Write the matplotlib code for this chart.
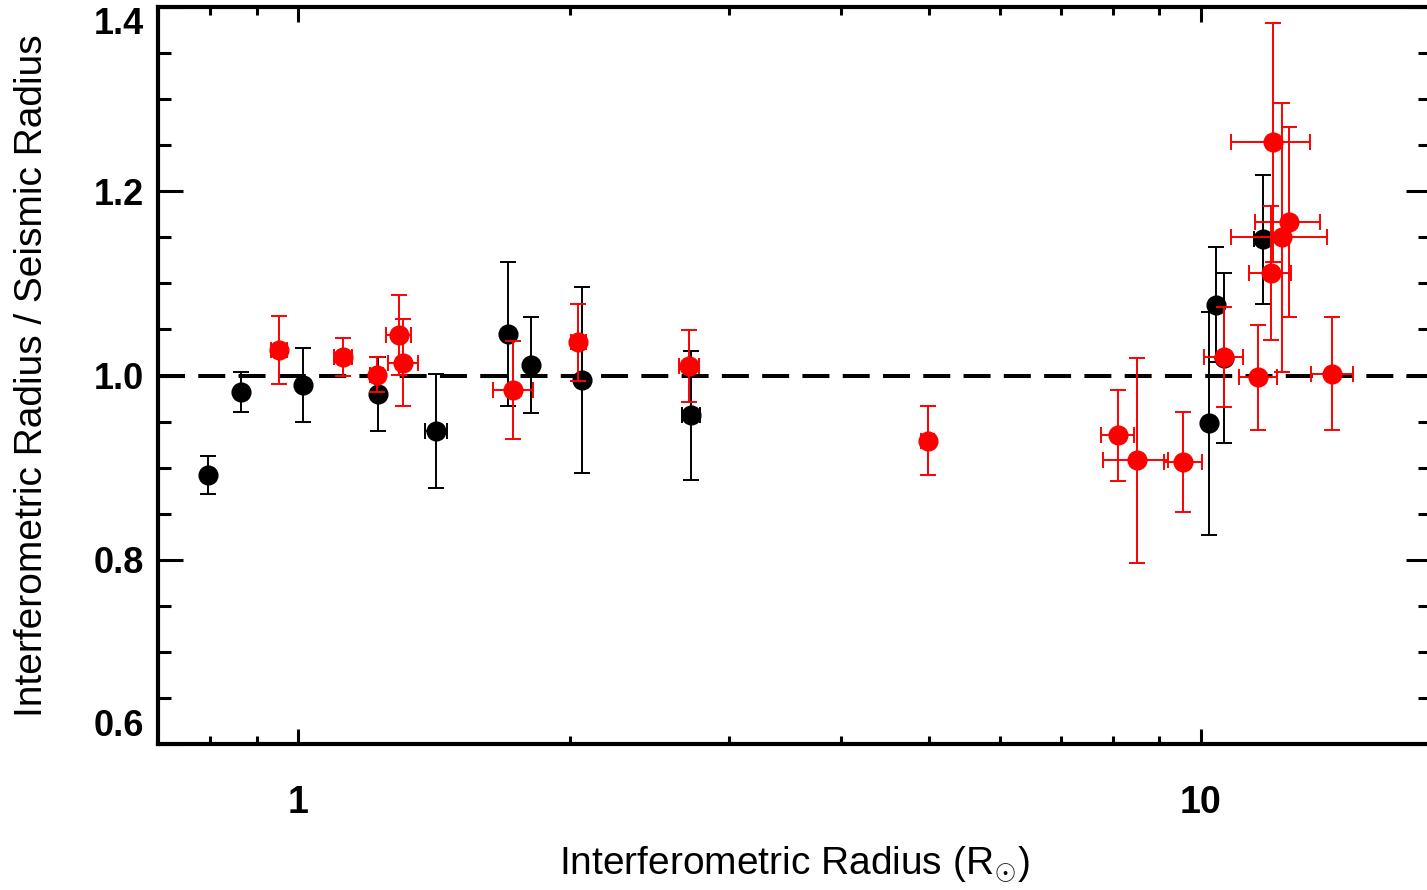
import numpy as np
import matplotlib
matplotlib.use("Agg")
import matplotlib.pyplot as plt
from matplotlib.ticker import FixedLocator, NullFormatter, FixedFormatter

plt.rcParams['font.family'] = ['Liberation Sans', 'DejaVu Sans']
plt.rcParams['mathtext.fontset'] = 'custom'
plt.rcParams['mathtext.rm'] = 'Liberation Sans'

# black sample: interferometric radius, ratio, errors
black_r = [0.795, 0.866, 1.012, 1.227, 1.423, 1.708, 1.813, 2.063, 2.726, 10.23, 10.41, 10.61, 11.72]
black_rerr = [0, 0, 0, 0, 0.04, 0, 0, 0, 0.06, 0, 0, 0, 0.25]
black_ratio = [0.892, 0.982, 0.990, 0.980, 0.940, 1.045, 1.011, 0.995, 0.957, 0.948, 1.077, 1.019, 1.148]
black_ratio_err = [0.021, 0.022, 0.040, 0.040, 0.062, 0.078, 0.052, 0.101, 0.070, 0.121, 0.062, 0.092, 0.070]

# red sample
red_r = [0.953, 1.122, 1.223, 1.293, 1.309, 1.733, 2.045, 2.713, 4.984, 8.10, 8.50, 9.57,
         10.62, 11.58, 14.0, 12.02, 11.96, 12.31, 12.52]
red_rerr = [0.02, 0.025, 0.02, 0.04, 0.05, 0.087, 0.04, 0.07, 0.08, 0.34, 0.70, 0.47,
            0.53, 0.56, 0.75, 1.2, 0.65, 1.49, 1.04]
red_ratio = [1.028, 1.020, 1.001, 1.044, 1.014, 0.984, 1.036, 1.010, 0.929, 0.935, 0.908, 0.906,
             1.020, 0.998, 1.002, 1.253, 1.111, 1.150, 1.167]
red_ratio_err = [0.037, 0.021, 0.019, 0.043, 0.047, 0.053, 0.042, 0.039, 0.0375, 0.049, 0.111, 0.054,
                 0.054, 0.057, 0.061, 0.130, 0.073, 0.146, 0.103]

W, H = 1427, 890
fig = plt.figure(figsize=(W / 100, H / 100), dpi=100)
ax = fig.add_axes([158 / W, (H - 744) / H, (1431 - 158) / W, (744 - 7) / H])

ax.set_xscale('log')
ax.set_xlim(0.7, 18)
ax.set_ylim(0.6, 1.4)

# reference line
ax.axhline(1.0, color='black', lw=2.9, dashes=(6.7, 3.3), zorder=1)

eb = dict(fmt='o', ms=13.5, elinewidth=1.4, capsize=6, capthick=1.4)
ax.errorbar(black_r, black_ratio, yerr=black_ratio_err, xerr=black_rerr,
            color='black', mec='black', zorder=2, **eb)
ax.errorbar(red_r, red_ratio, yerr=red_ratio_err, xerr=red_rerr,
            color='red', mec='red', zorder=3, **eb)

# axes decoration
for s in ax.spines.values():
    s.set_linewidth(3)

ax.xaxis.set_major_locator(FixedLocator([1, 10]))
ax.xaxis.set_major_formatter(FixedFormatter(['1', '10']))
ax.xaxis.set_minor_locator(FixedLocator([0.8, 0.9, 2, 3, 4, 5, 6, 7, 8, 9]))
ax.xaxis.set_minor_formatter(NullFormatter())

yticks = [0.6, 0.8, 1.0, 1.2, 1.4]
ax.yaxis.set_major_locator(FixedLocator(yticks))
ax.yaxis.set_major_formatter(FixedFormatter(['%.1f' % v for v in yticks]))
ax.yaxis.set_minor_locator(FixedLocator(np.arange(0.65, 1.4, 0.05)))

ax.tick_params(axis='y', which='major', direction='in', length=18, width=2.2,
               right=True, labelsize=26, pad=10)
ax.tick_params(axis='y', which='minor', direction='in', length=9.4, width=2.2, right=True)
ax.tick_params(axis='x', which='major', direction='in', length=11, width=2.2,
               top=True, labelsize=27, pad=29.5)
ax.tick_params(axis='x', which='minor', direction='in', length=6, width=2.2, top=True)

for lab in ax.get_xticklabels() + ax.get_yticklabels():
    lab.set_fontweight('bold')

ticks = ax.yaxis.get_major_ticks()
ticks[0].label1.set_va('bottom')
ticks[-1].label1.set_va('top')

ax.set_xlabel(r'Interferometric Radius (R$_{\!\odot\!}$)', fontsize=28)
ax.set_ylabel('Interferometric Radius / Seismic Radius', fontsize=28)
ax.xaxis.label.set_va('center')
ax.yaxis.label.set_va('center')
ax.xaxis.set_label_coords(0.5, -0.163)
ax.yaxis.set_label_coords(-0.099, 0.5)

fig.savefig('out.png', dpi=100)
